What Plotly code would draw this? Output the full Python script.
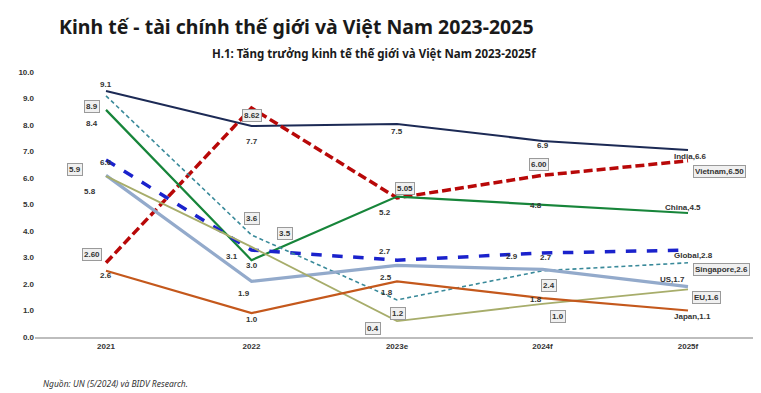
import plotly.graph_objects as go

# ---------------- data ----------------
categories = ["2021", "2022", "2023e", "2024f", "2025f"]

india = [9.28, 7.96, 8.04, 7.40, 7.06]
vietnam = [2.80, 8.64, 5.25, 6.10, 6.65]
china = [8.57, 2.90, 5.30, 4.98, 4.68]
global_ = [6.68, 3.28, 2.90, 3.17, 3.28]
singapore = [9.10, 3.85, 1.40, 2.50, 2.80]
us = [6.10, 2.10, 2.70, 2.55, 1.90]
eu = [6.07, 3.40, 0.60, 1.25, 1.80]
japan = [2.50, 0.90, 2.10, 1.47, 1.00]

y_ticks = [0, 1, 2, 3, 4, 5, 6, 7, 8, 9, 10]

# data-label texts (series, point index, text)
labels_india = ["9.1", "7.7", "7.5", "6.9", "India,6.6"]
labels_vietnam = ["2.60", "8.62", "5.05", "6.00", "Vietnam,6.50"]
labels_china = ["8.4", "3.0", "5.2", "4.8", "China,4.5"]
labels_global = ["6.6", "3.1", "2.7", "2.9", "Global,2.8"]
labels_singapore = ["8.9", "3.6", "1.8", None, "Singapore,2.6"]
labels_us = ["5.8", "1.9", None, "2.4", "US,1.7"]
labels_eu = ["5.9", "3.5", "1.2", "1.0", "EU,1.6"]
labels_japan = ["2.6", "1.0", "2.5", "1.8", "Japan,1.1"]
extra_labels = [("us", 3, "2.7"), ("eu", 2, "0.4")]

# ---------------- styles ----------------
series = {
    "india": dict(y=india, labels=labels_india, color="#1c2a55", width=2.0, dash="solid"),
    "vietnam": dict(y=vietnam, labels=labels_vietnam, color="#b80808", width=3.5, dash="9px,4px"),
    "china": dict(y=china, labels=labels_china, color="#17853a", width=2.2, dash="solid"),
    "global": dict(y=global_, labels=labels_global, color="#1a22cc", width=3.5, dash="dash"),
    "singapore": dict(y=singapore, labels=labels_singapore, color="#3a8a9a", width=1.6, dash="4px,3px"),
    "us": dict(y=us, labels=labels_us, color="#93aacb", width=3.2, dash="solid"),
    "eu": dict(y=eu, labels=labels_eu, color="#a7ad6b", width=1.8, dash="solid"),
    "japan": dict(y=japan, labels=labels_japan, color="#c4581c", width=2.2, dash="solid"),
}

# pixel offsets of labels (dx right, dy down) and whether boxed
label_style = {
    "india": [(0, -7, 0), (0, 15, 0), (0, 8, 0), (0, 5, 0), (2, 7, 0)],
    "vietnam": [(-14, -8, 1), (0, 7, 1), (8, -9, 1), (-4, -11, 1), (31, 11, 1)],
    "china": [(-14, 14, 0), (0, 5, 0), (-12, 16, 0), (-7, 0, 0), (-5, -5, 0)],
    "global": [(0, 3, 0), (-20, 6, 0), (-12, -9, 0), (-31, 3, 0), (5, 5, 0)],
    "singapore": [(-14, 11, 1), (0, -16, 1), (-10, -7, 0), None, (33, 7, 1)],
    "us": [(-16, 16, 0), (-8, 12, 0), None, (6, 16, 1), (-16, -7, 0)],
    "eu": [(-31, -7, 1), (33, -13, 1), (1, -8, 1), (15, 13, 1), (18, 8, 1)],
    "japan": [(0, 5, 0), (0, 6, 0), (-11, -4, 0), (-7, 1, 0), (4, 6, 0)],
}
extra_style = [(3, -12, 0), (-24, 7, 1)]

x_idx = list(range(len(categories)))

fig = go.Figure()
for name, s in series.items():
    fig.add_trace(go.Scatter(
        x=x_idx, y=s["y"], mode="lines", name=name,
        line=dict(color=s["color"], width=s["width"], dash=s["dash"]),
        hoverinfo="skip", showlegend=False,
    ))

lab_font = dict(family="Liberation Sans, Arial, sans-serif", size=8, color="#333333")


def add_label(xi, yv, text, dx, dy, boxed):
    kw = dict(x=xi, y=yv, xref="x", yref="y", text="<b>%s</b>" % text, showarrow=False,
              xshift=dx, yshift=-dy, font=lab_font)
    if boxed:
        kw.update(bgcolor="#f0f0f0", bordercolor="#9a9a9a", borderwidth=1, borderpad=1)
    fig.add_annotation(**kw)


for name, s in series.items():
    for i, t in enumerate(s["labels"]):
        st = label_style[name][i]
        if t is None or st is None:
            continue
        add_label(i, s["y"][i], t, st[0], st[1], st[2])

for (name, i, t), st in zip(extra_labels, extra_style):
    add_label(i, series[name]["y"][i], t, st[0], st[1], st[2])

# titles and source
fig.add_annotation(text="<b>Kinh tế - tài chính thế giới và Việt Nam 2023-2025</b>",
                   xref="paper", yref="paper", x=0, y=1, showarrow=False,
                   xanchor="left", yanchor="middle", xshift=22, yshift=46,
                   font=dict(family="Noto Sans, Open Sans, sans-serif", size=19.5, color="#1a1a1a"))
fig.add_annotation(text="<b>H.1: Tăng trưởng kinh tế thế giới và Việt Nam 2023-2025f</b>",
                   xref="paper", yref="paper", x=0.469, y=1, showarrow=False,
                   xanchor="center", yanchor="middle", yshift=19,
                   font=dict(family="Noto Sans, Open Sans, sans-serif", size=11.5, color="#1a1a1a"))
fig.add_annotation(text="<i>Nguồn: UN (5/2024) và BIDV Research.</i>",
                   xref="paper", yref="paper", x=0, y=0, showarrow=False,
                   xanchor="left", yanchor="middle", xshift=6, yshift=-46,
                   font=dict(family="Noto Sans, Open Sans, sans-serif", size=8.5, color="#333333"))

fig.update_layout(
    width=761, height=393,
    margin=dict(l=27, r=11, t=64, b=64),
    plot_bgcolor="white", paper_bgcolor="white",
    xaxis=dict(range=[-0.488, 4.481], tickvals=x_idx, ticktext=["<b>%s</b>" % c for c in categories],
               showgrid=False, zeroline=False, showline=True, linecolor="#bdbdbd", linewidth=2,
               ticks="", tickfont=dict(family="Liberation Sans, Arial, sans-serif", size=8, color="#333333")),
    yaxis=dict(range=[0, 10], tickvals=y_ticks, ticktext=["<b>%.1f</b>" % v for v in y_ticks],
               showgrid=False, zeroline=False, showline=False, ticks="",
               tickfont=dict(family="Liberation Sans, Arial, sans-serif", size=8, color="#333333")),
)

fig.write_html("out.html")
